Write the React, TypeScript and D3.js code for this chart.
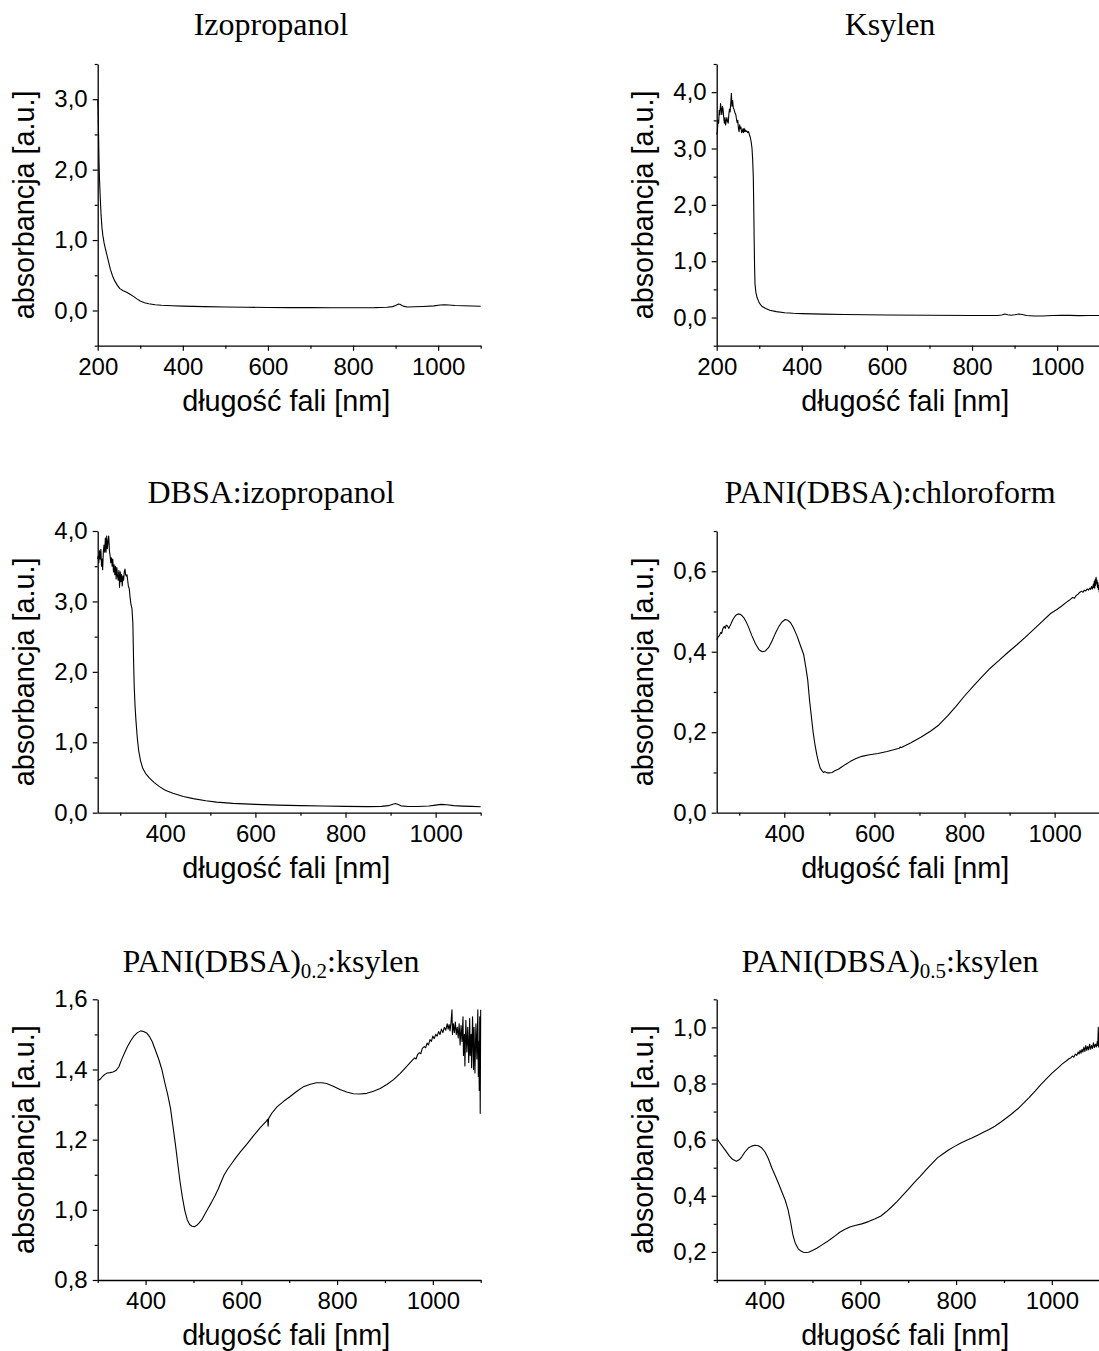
import * as d3 from "d3";
import { useEffect, useRef } from "react";

// UV-Vis absorbance spectra, [wavelength nm, absorbance a.u.]
const izopropanol: [number, number][] = [
  [200, 3.0], [201, 2.85], [202, 2.5], [203, 2.15], [204, 1.9], [206, 1.6], [208, 1.35], [210, 1.18],
  [212, 1.07], [215, 0.96], [218, 0.88], [222, 0.78], [226, 0.68], [230, 0.58], [235, 0.49], [240, 0.42],
  [246, 0.36], [252, 0.31], [260, 0.28], [268, 0.26], [276, 0.23], [284, 0.2], [292, 0.165], [300, 0.135],
  [310, 0.11], [320, 0.095], [335, 0.082], [350, 0.075], [375, 0.068], [400, 0.062], [450, 0.055],
  [500, 0.05], [550, 0.046], [600, 0.043], [650, 0.041], [700, 0.04], [750, 0.039], [800, 0.039],
  [850, 0.04], [880, 0.045], [893, 0.055], [900, 0.07], [906, 0.09], [910, 0.088], [915, 0.072],
  [920, 0.058], [928, 0.05], [945, 0.052], [965, 0.057], [990, 0.066], [1005, 0.077], [1015, 0.082],
  [1025, 0.078], [1040, 0.07], [1060, 0.067], [1080, 0.064], [1100, 0.06],
];

const ksylen: [number, number][] = [
  [200, 3.25], [201.5, 3.3], [203, 3.5], [204.5, 3.45], [206, 3.68], [207.5, 3.6], [209, 3.8], [210.5, 3.7],
  [212, 3.6], [213.5, 3.75], [215, 3.7], [216.5, 3.55], [218, 3.45], [219.5, 3.55], [221, 3.42], [222.5, 3.5],
  [224, 3.55], [225.5, 3.48], [227, 3.45], [228.5, 3.6], [230, 3.7], [231.5, 3.65], [233, 3.8], [234.5, 3.98],
  [236, 3.75], [237.5, 3.85], [239, 3.72], [240.5, 3.7], [242, 3.66], [243.5, 3.62], [245, 3.6], [246.5, 3.52],
  [248, 3.46], [249.5, 3.5], [251, 3.36], [252.5, 3.3], [254, 3.42], [255.5, 3.35], [257, 3.38], [258.5, 3.28],
  [260, 3.3], [261.5, 3.35], [263, 3.28], [264.5, 3.36], [266, 3.3], [267.5, 3.33], [269, 3.3], [271, 3.31],
  [273, 3.28], [275, 3.3], [277, 3.24], [279, 3.2], [281, 3.12], [283, 3.0], [284.5, 2.8], [286, 2.5],
  [287, 2.0], [288, 1.4], [289, 0.9], [290, 0.6], [292, 0.45], [295, 0.35], [300, 0.26], [306, 0.2],
  [315, 0.16], [325, 0.13], [340, 0.105], [360, 0.085], [380, 0.075], [400, 0.07], [450, 0.06], [500, 0.055],
  [600, 0.045], [700, 0.04], [800, 0.036], [860, 0.036], [870, 0.045], [877, 0.062], [884, 0.05], [892, 0.04],
  [900, 0.048], [910, 0.062], [918, 0.055], [928, 0.037], [945, 0.028], [965, 0.027], [990, 0.035],
  [1010, 0.04], [1030, 0.038], [1050, 0.033], [1075, 0.036], [1100, 0.035],
];

const dbsaIzopropanol: [number, number][] = [
  [250, 3.6], [251, 3.64], [252.5, 3.55], [254, 3.72], [255.5, 3.6], [257, 3.74], [258.5, 3.5], [260, 3.6],
  [261, 3.45], [262.5, 3.7], [264, 3.8], [265.5, 3.7], [267, 3.9], [268.5, 3.7], [270, 3.93], [271.5, 3.75],
  [273, 3.85], [274.5, 3.93], [276, 3.72], [277.5, 3.65], [279, 3.55], [280.5, 3.62], [282, 3.5], [283.5, 3.6],
  [285, 3.42], [286.5, 3.52], [288, 3.38], [289.5, 3.5], [291, 3.32], [292.5, 3.48], [294, 3.36], [295.5, 3.3],
  [297, 3.44], [298.5, 3.2], [300, 3.42], [301.5, 3.28], [303, 3.38], [304.5, 3.22], [306, 3.36], [307.5, 3.3],
  [309, 3.42], [310.5, 3.46], [312, 3.38], [313.5, 3.36], [315, 3.38], [316.5, 3.3], [318, 3.22], [320, 3.18],
  [322, 3.05], [324, 2.95], [326, 2.9], [328, 2.7], [329.5, 2.2], [331, 1.8], [333, 1.5], [335, 1.3],
  [338, 1.05], [341, 0.88], [345, 0.74], [350, 0.63], [357, 0.55], [365, 0.49], [375, 0.43], [387, 0.37],
  [400, 0.32], [417, 0.275], [440, 0.23], [462, 0.2], [490, 0.17], [514, 0.15], [550, 0.133], [600, 0.118],
  [650, 0.108], [700, 0.1], [750, 0.095], [800, 0.09], [850, 0.086], [880, 0.09], [895, 0.1], [905, 0.12],
  [911, 0.13], [917, 0.115], [923, 0.097], [940, 0.088], [960, 0.087], [985, 0.095], [1000, 0.108],
  [1012, 0.118], [1025, 0.112], [1040, 0.1], [1060, 0.094], [1080, 0.09], [1100, 0.085],
];

const paniChloroform: [number, number][] = [
  [250, 0.43], [253, 0.436], [256, 0.44], [259, 0.448], [261, 0.445], [263, 0.455], [265, 0.46], [267, 0.463],
  [269, 0.458], [271, 0.466], [273, 0.465], [275, 0.462], [277, 0.458], [279, 0.463], [282, 0.47], [286, 0.48],
  [290, 0.487], [294, 0.492], [298, 0.494], [302, 0.493], [306, 0.49], [310, 0.485], [315, 0.475], [320, 0.463],
  [328, 0.44], [336, 0.42], [344, 0.405], [351, 0.4], [358, 0.402], [365, 0.41], [372, 0.425], [380, 0.445],
  [388, 0.463], [395, 0.474], [402, 0.48], [408, 0.478], [414, 0.472], [420, 0.46], [428, 0.44], [436, 0.415],
  [443, 0.393], [448, 0.36], [452, 0.33], [456, 0.28], [460, 0.24], [464, 0.2], [468, 0.17], [472, 0.145],
  [476, 0.125], [480, 0.11], [484, 0.104], [487, 0.1], [490, 0.102], [495, 0.099], [500, 0.099], [506, 0.1],
  [512, 0.104], [520, 0.108], [528, 0.114], [536, 0.12], [546, 0.127], [558, 0.134], [572, 0.14], [589, 0.144],
  [608, 0.147], [628, 0.152], [645, 0.157], [655, 0.16], [657, 0.163], [660, 0.162], [680, 0.173],
  [704, 0.188], [725, 0.203], [743, 0.218], [762, 0.24], [781, 0.264], [800, 0.29], [819, 0.314],
  [838, 0.337], [857, 0.359], [876, 0.378], [896, 0.398], [915, 0.416], [934, 0.435], [953, 0.455],
  [972, 0.475], [991, 0.495], [1005, 0.505], [1015, 0.513], [1025, 0.522], [1030, 0.526], [1035, 0.53],
  [1040, 0.535], [1044, 0.533], [1048, 0.54], [1052, 0.543], [1056, 0.548], [1060, 0.55], [1063, 0.548],
  [1066, 0.553], [1069, 0.551], [1072, 0.556], [1075, 0.553], [1078, 0.558], [1080, 0.555], [1082, 0.562],
  [1084, 0.556], [1086, 0.568], [1087, 0.56], [1088, 0.575], [1089, 0.558], [1090, 0.58], [1091, 0.565],
  [1092, 0.585], [1093, 0.57], [1094, 0.578], [1095, 0.56], [1096, 0.572], [1097, 0.555], [1098, 0.565],
  [1099, 0.548], [1100, 0.552],
];

const pani02Ksylen: [number, number][] = [
  [300, 1.368], [305, 1.372], [310, 1.38], [315, 1.386], [320, 1.39], [326, 1.391], [332, 1.393], [338, 1.397],
  [344, 1.407], [350, 1.428], [356, 1.447], [362, 1.465], [369, 1.482], [376, 1.496], [383, 1.505], [390, 1.51],
  [396, 1.508], [403, 1.503], [409, 1.492], [414, 1.479], [420, 1.457], [428, 1.427], [434, 1.4], [440, 1.363],
  [446, 1.33], [452, 1.29], [457, 1.24], [462, 1.19], [467, 1.135], [472, 1.08], [477, 1.035], [482, 0.998],
  [487, 0.972], [492, 0.958], [497, 0.953], [502, 0.952], [507, 0.956], [512, 0.963], [518, 0.973],
  [524, 0.988], [531, 1.005], [538, 1.022], [545, 1.04], [552, 1.06], [558, 1.08], [564, 1.099], [572, 1.117],
  [584, 1.14], [598, 1.165], [612, 1.188], [626, 1.212], [640, 1.235], [652, 1.252], [655, 1.258],
  [656, 1.238], [657, 1.26], [664, 1.276], [675, 1.294], [689, 1.31], [702, 1.323], [716, 1.338], [730, 1.351],
  [744, 1.358], [757, 1.362], [768, 1.362], [778, 1.36], [792, 1.352], [806, 1.343], [820, 1.336],
  [834, 1.331], [848, 1.33], [862, 1.332], [876, 1.338], [890, 1.346], [904, 1.357], [918, 1.371],
  [932, 1.389], [945, 1.408], [955, 1.423], [962, 1.433], [965, 1.43], [968, 1.442], [972, 1.448],
  [975, 1.445], [978, 1.46], [982, 1.465], [985, 1.462], [988, 1.475], [991, 1.47], [994, 1.485], [997, 1.48],
  [1000, 1.495], [1003, 1.488], [1006, 1.5], [1009, 1.495], [1012, 1.508], [1015, 1.5], [1018, 1.515],
  [1021, 1.505], [1024, 1.52], [1027, 1.512], [1030, 1.53], [1032, 1.515], [1034, 1.528], [1036, 1.51],
  [1038, 1.535], [1040, 1.57], [1041, 1.5], [1043, 1.53], [1045, 1.505], [1047, 1.535], [1049, 1.5],
  [1051, 1.52], [1053, 1.49], [1055, 1.53], [1057, 1.47], [1059, 1.525], [1061, 1.48], [1063, 1.55],
  [1064, 1.44], [1066, 1.5], [1067, 1.41], [1069, 1.54], [1071, 1.45], [1073, 1.52], [1075, 1.42],
  [1077, 1.545], [1078, 1.44], [1080, 1.5], [1081, 1.405], [1083, 1.55], [1085, 1.4], [1086, 1.52],
  [1088, 1.39], [1090, 1.53], [1092, 1.43], [1094, 1.57], [1095, 1.38], [1096, 1.48], [1097, 1.34],
  [1098, 1.55], [1099, 1.275], [1100, 1.57],
];

const pani05Ksylen: [number, number][] = [
  [300, 0.606], [306, 0.59], [312, 0.576], [319, 0.56], [326, 0.543], [333, 0.53], [341, 0.523], [347, 0.528],
  [352, 0.538], [359, 0.556], [366, 0.57], [373, 0.577], [380, 0.58], [387, 0.578], [394, 0.571], [401, 0.556],
  [408, 0.532], [415, 0.5], [423, 0.469], [430, 0.44], [437, 0.41], [443, 0.385], [449, 0.351], [454, 0.31],
  [459, 0.262], [464, 0.232], [470, 0.212], [476, 0.203], [481, 0.199], [487, 0.198], [492, 0.199],
  [500, 0.205], [510, 0.214], [520, 0.225], [530, 0.236], [539, 0.247], [548, 0.258], [557, 0.27],
  [567, 0.28], [578, 0.289], [589, 0.294], [603, 0.3], [617, 0.308], [631, 0.318], [643, 0.328], [654, 0.343],
  [665, 0.36], [677, 0.38], [689, 0.402], [701, 0.425], [713, 0.448], [725, 0.469], [737, 0.492], [749, 0.514],
  [761, 0.535], [773, 0.55], [785, 0.564], [797, 0.576], [809, 0.587], [821, 0.597], [833, 0.606],
  [845, 0.616], [857, 0.626], [869, 0.636], [881, 0.648], [893, 0.662], [905, 0.677], [917, 0.693],
  [929, 0.71], [941, 0.73], [953, 0.751], [965, 0.773], [977, 0.796], [989, 0.817], [1001, 0.838],
  [1013, 0.856], [1022, 0.87], [1030, 0.88], [1036, 0.888], [1040, 0.892], [1043, 0.898], [1046, 0.894],
  [1049, 0.905], [1052, 0.9], [1055, 0.912], [1057, 0.905], [1059, 0.918], [1061, 0.908], [1063, 0.922],
  [1065, 0.912], [1067, 0.93], [1069, 0.914], [1071, 0.935], [1073, 0.918], [1075, 0.932], [1077, 0.92],
  [1079, 0.94], [1081, 0.922], [1083, 0.935], [1085, 0.925], [1087, 0.945], [1089, 0.928], [1091, 0.94],
  [1093, 0.93], [1095, 0.95], [1096, 0.935], [1097, 1.0], [1098, 0.93], [1100, 0.945],
];

// title: [main, subscript, rest]
const titles: [string, string, string][] = [
  ["Izopropanol", "", ""],
  ["Ksylen", "", ""],
  ["DBSA:izopropanol", "", ""],
  ["PANI(DBSA):chloroform", "", ""],
  ["PANI(DBSA)", "0.2", ":ksylen"],
  ["PANI(DBSA)", "0.5", ":ksylen"],
];
const xDomains: [number, number][] = [[200, 1100], [200, 1100], [250, 1100], [250, 1100], [300, 1100], [300, 1100]];
const yDomains: [number, number][] = [[-0.5, 3.5], [-0.5, 4.5], [0, 4], [0, 0.7], [0.8, 1.6], [0.1, 1.1]];
const yMajor: number[][] = [
  [0, 1, 2, 3],
  [0, 1, 2, 3, 4],
  [0, 1, 2, 3, 4],
  [0, 0.2, 0.4, 0.6],
  [0.8, 1.0, 1.2, 1.4, 1.6],
  [0.2, 0.4, 0.6, 0.8, 1.0],
];
const yMinor: number[][] = [
  [-0.5, 0.5, 1.5, 2.5, 3.5],
  [-0.5, 0.5, 1.5, 2.5, 3.5, 4.5],
  [0.5, 1.5, 2.5, 3.5],
  [0.1, 0.3, 0.5, 0.7],
  [0.9, 1.1, 1.3, 1.5],
  [0.1, 0.3, 0.5, 0.7, 0.9, 1.1],
];
const xMajor = [200, 400, 600, 800, 1000];
const xMinor = [300, 500, 700, 900, 1100];
const series = [izopropanol, ksylen, dbsaIzopropanol, paniChloroform, pani02Ksylen, pani05Ksylen];

const xLabel = "długość fali [nm]";
const yLabel = "absorbancja [a.u.]";

const W = 1099;
const H = 1351;
const colLeft = [97.7, 716.7];
const titleCx = [271, 890];
const rowTop = [64, 531, 999.3];
const rowH = [281.7, 281.7, 280.7];
const titleBase = [35, 503.3, 971.7];
const plotW = 383;

const sans = "'Liberation Sans', Arial, sans-serif";
const serif = "'Liberation Serif', 'Times New Roman', serif";
const fmt = (v: number) => d3.format(".1f")(v).replace(".", ",");

export default function App() {
  const svgRef = useRef<SVGSVGElement>(null);

  useEffect(() => {
    if (!svgRef.current) return;
    const svg = d3.select(svgRef.current);
    svg.selectAll("*").remove();

    series.forEach((data, i) => {
      const col = i % 2;
      const row = Math.floor(i / 2);
      const left = colLeft[col];
      const top = rowTop[row];
      const h = rowH[row];
      const g = svg.append("g").attr("transform", `translate(${left},${top})`);

      const xd = xDomains[i];
      const yd = yDomains[i];
      const x = d3.scaleLinear().domain(xd).range([0, plotW]);
      const y = d3.scaleLinear().domain(yd).range([h, 0]);

      const line = d3
        .line<[number, number]>()
        .x((d) => x(d[0]))
        .y((d) => y(d[1]));
      g.append("path")
        .datum(data)
        .attr("d", line)
        .attr("fill", "none")
        .attr("stroke", "#000")
        .attr("stroke-width", 1.1)
        .attr("stroke-linejoin", "round");

      const xmaj = xMajor.filter((v) => v >= xd[0] && v <= xd[1]);
      const xmin = xMinor.filter((v) => v >= xd[0] && v <= xd[1]);

      // minor ticks
      g.append("g")
        .attr("transform", `translate(0,${h})`)
        .call(d3.axisBottom(x).tickValues(xmin).tickSize(3).tickSizeOuter(0).tickFormat(() => ""))
        .call((a) => a.select(".domain").remove());
      g.append("g")
        .call(d3.axisLeft(y).tickValues(yMinor[i]).tickSize(3).tickSizeOuter(0).tickFormat(() => ""))
        .call((a) => a.select(".domain").remove());

      const xa = g
        .append("g")
        .attr("transform", `translate(0,${h})`)
        .call(d3.axisBottom(x).tickValues(xmaj).tickSize(5).tickSizeOuter(0).tickPadding(7).tickFormat((d) => String(d)));
      const ya = g
        .append("g")
        .call(d3.axisLeft(y).tickValues(yMajor[i]).tickSize(5).tickSizeOuter(0).tickPadding(5).tickFormat((d) => fmt(+d)));

      for (const a of [xa, ya]) {
        a.selectAll("text").attr("font-family", sans).attr("font-size", 24).attr("fill", "#000");
      }
      g.selectAll(".tick line").attr("stroke", "#000").attr("stroke-width", 1.2);
      g.selectAll(".domain").attr("stroke", "#000").attr("stroke-width", 1.3);

      // axis titles
      g.append("text")
        .attr("x", plotW / 2 - 3)
        .attr("y", h + 65)
        .attr("text-anchor", "middle")
        .attr("font-family", sans)
        .attr("font-size", 28.8)
        .attr("fill", "#000")
        .text(xLabel);
      g.append("text")
        .attr("transform", `translate(-64,${h / 2}) rotate(-90)`)
        .attr("text-anchor", "middle")
        .attr("font-family", sans)
        .attr("font-size", 28.8)
        .attr("fill", "#000")
        .text(yLabel);

      // panel title
      const [main, sub, rest] = titles[i];
      const t = svg
        .append("text")
        .attr("x", titleCx[col])
        .attr("y", titleBase[row])
        .attr("text-anchor", "middle")
        .attr("font-family", serif)
        .attr("font-size", 32)
        .attr("fill", "#000");
      t.append("tspan").text(main);
      if (sub) {
        t.append("tspan").attr("font-size", 21).attr("dy", 6).text(sub);
        t.append("tspan").attr("dy", -6).text(rest);
      }
    });
  }, []);

  return (
    <svg
      ref={svgRef}
      width={W}
      height={H}
      style={{ position: "absolute", left: 0, top: 0, background: "#fff" }}
    />
  );
}
